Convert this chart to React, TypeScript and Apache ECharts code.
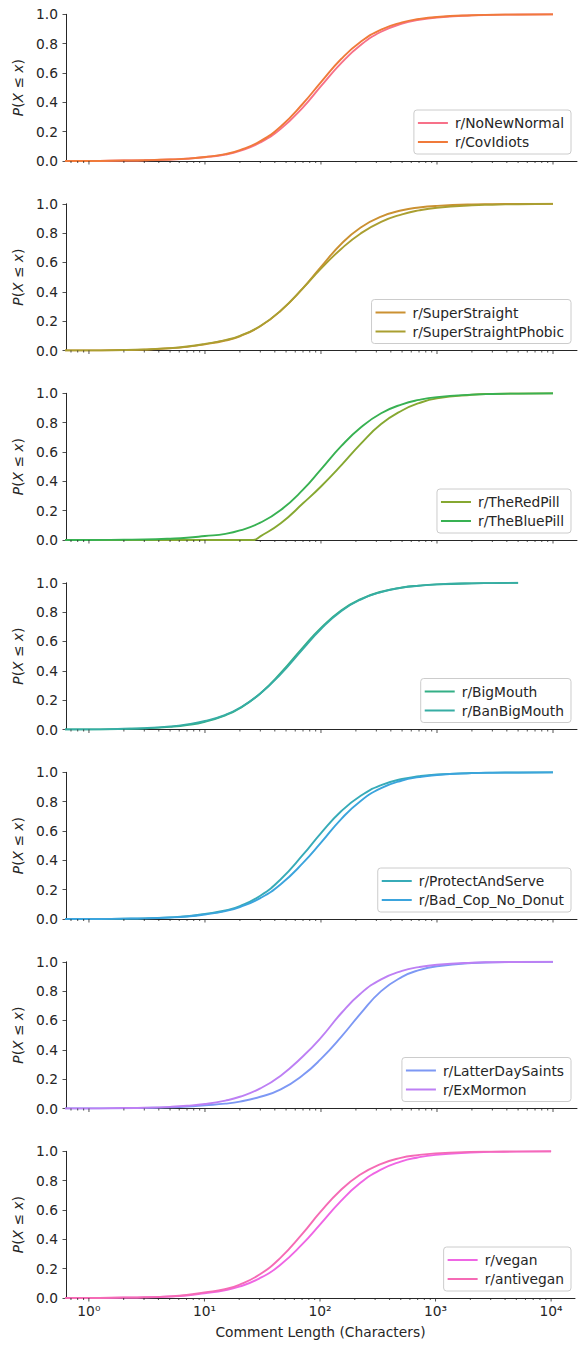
import React, { useEffect, useRef } from 'react';
import * as echarts from 'echarts';

// Comment length sample points (characters); the first point sits left of the view (ECDF starts at 0)
const X = [0.5, 1, 2, 3, 5, 7, 10, 15, 20, 30, 45, 70, 100, 150, 220, 330, 500, 700, 1000, 2000, 3000, 5000, 10000];
// r/TheRedPill has no comments shorter than ~26 characters
const RED_X = [0.5, 1, 26, 30, 45, 70, 100, 150, 220, 330, 500, 700, 1000, 2000, 3000, 5000, 10000];

// ECDF values, one per X value (null = no data)
const NoNewNormal = [0, 0, 0.003, 0.005, 0.01, 0.015, 0.026, 0.044, 0.069, 0.126, 0.219, 0.366, 0.51, 0.669, 0.791, 0.881, 0.936, 0.962, 0.978, 0.993, 0.996, 0.9984, 1];
const CovIdiots = [0, 0, 0.003, 0.005, 0.01, 0.016, 0.027, 0.047, 0.074, 0.135, 0.235, 0.392, 0.538, 0.697, 0.813, 0.896, 0.945, 0.968, 0.982, 0.994, 0.997, 0.9988, 1];
const SuperStraight = [0, 0, 0.003, 0.006, 0.015, 0.025, 0.042, 0.068, 0.097, 0.165, 0.271, 0.425, 0.57, 0.728, 0.839, 0.913, 0.956, 0.975, 0.986, 0.996, 0.998, 0.999, 1];
const SuperStraightPhobic = [0, 0, 0.003, 0.007, 0.016, 0.027, 0.045, 0.071, 0.1, 0.167, 0.272, 0.425, 0.558, 0.694, 0.798, 0.877, 0.928, 0.955, 0.973, 0.99, 0.994, 0.997, 1];
const TheRedPill = [0, 0, 0, 0.025, 0.114, 0.25, 0.365, 0.51, 0.655, 0.79, 0.883, 0.933, 0.965, 0.99, 0.996, 0.999, 1];
const TheBluePill = [0, 0, 0.002, 0.0035, 0.009, 0.015, 0.027, 0.042, 0.065, 0.118, 0.204, 0.343, 0.4815, 0.641, 0.767, 0.864, 0.925, 0.955, 0.974, 0.991, 0.9955, 0.998, 1];
const BigMouth = [0, 0, 0.004, 0.008, 0.018, 0.03, 0.053, 0.097, 0.145, 0.246, 0.385, 0.56, 0.693, 0.813, 0.889, 0.939, 0.968, 0.981, 0.989, 0.9964, 0.998, 1, null];
const BanBigMouth = [0, 0, 0.005, 0.009, 0.021, 0.035, 0.058, 0.1, 0.148, 0.245, 0.378, 0.55, 0.685, 0.808, 0.886, 0.937, 0.967, 0.98, 0.989, 0.9963, 0.998, 1, null];
const ProtectAndServe = [0, 0, 0.002, 0.004, 0.011, 0.019, 0.035, 0.058, 0.088, 0.159, 0.271, 0.438, 0.586, 0.736, 0.84, 0.912, 0.954, 0.973, 0.985, 0.995, 0.998, 0.999, 1];
const BadCopNoDonut = [0, 0, 0.0025, 0.0046, 0.0102, 0.0171, 0.031, 0.0536, 0.0813, 0.1424, 0.237, 0.382, 0.52, 0.683, 0.805, 0.892, 0.944, 0.967, 0.982, 0.9944, 0.9972, 0.9988, 1];
const LatterDaySaints = [0, 0, 0.002, 0.004, 0.008, 0.013, 0.022, 0.033, 0.047, 0.08, 0.13, 0.228, 0.338, 0.49, 0.648, 0.8, 0.897, 0.943, 0.97, 0.992, 0.996, 0.9985, 1];
const ExMormon = [0, 0, 0.003, 0.0053, 0.0112, 0.0183, 0.0305, 0.054, 0.08, 0.137, 0.224, 0.356, 0.483, 0.651, 0.784, 0.88, 0.938, 0.964, 0.98, 0.994, 0.997, 0.9988, 1];
const Vegan = [0, 0, 0.0023, 0.0045, 0.01, 0.017, 0.032, 0.052, 0.077, 0.134, 0.224, 0.365, 0.5, 0.657, 0.78, 0.872, 0.93, 0.958, 0.976, 0.992, 0.9958, 0.9981, 1];
const Antivegan = [0, 0, 0.003, 0.005, 0.011, 0.02, 0.038, 0.06, 0.09, 0.16, 0.27, 0.435, 0.583, 0.733, 0.838, 0.911, 0.955, 0.974, 0.986, 0.996, 0.998, 0.9992, 1];

const PANEL_NAMES = [
  ['r/NoNewNormal', 'r/CovIdiots'],
  ['r/SuperStraight', 'r/SuperStraightPhobic'],
  ['r/TheRedPill', 'r/TheBluePill'],
  ['r/BigMouth', 'r/BanBigMouth'],
  ['r/ProtectAndServe', 'r/Bad_Cop_No_Donut'],
  ['r/LatterDaySaints', 'r/ExMormon'],
  ['r/vegan', 'r/antivegan'],
];
const PANEL_VALUES = [
  [NoNewNormal, CovIdiots],
  [SuperStraight, SuperStraightPhobic],
  [TheRedPill, TheBluePill],
  [BigMouth, BanBigMouth],
  [ProtectAndServe, BadCopNoDonut],
  [LatterDaySaints, ExMormon],
  [Vegan, Antivegan],
];
const PANEL_X = [
  [X, X],
  [X, X],
  [RED_X, X],
  [X, X],
  [X, X],
  [X, X],
  [X, X],
];
const COLORS = [
  ['#f77189', '#f07a3a'],
  ['#cb9132', '#aa9f31'],
  ['#86a831', '#38b152'],
  ['#34af86', '#36ada4'],
  ['#37abb8', '#3ba4dd'],
  ['#7d98f4', '#bd80f4'],
  ['#ef66e4', '#f56bb5'],
];

const MAJOR_TICKS = [1, 10, 100, 1000, 10000];
const MINOR_TICKS = [0.7, 0.8, 0.9, 2, 3, 4, 5, 6, 7, 8, 9, 20, 30, 40, 50, 60, 70, 80, 90, 200, 300, 400, 500, 600, 700, 800, 900, 2000, 3000, 4000, 5000, 6000, 7000, 8000, 9000];
const Y_TICKS_INTERVAL = 0.2;

const FONT = 'DejaVu Sans';
const INK = '#262626';
const FS = 13.8;
const SUP: Record<string, string> = { '0': '\u2070', '1': '\u00b9', '2': '\u00b2', '3': '\u00b3', '4': '\u2074' };
// legend line sample: a 30x14 box holding a centred 1.8px bar
const LEGEND_ICON = 'path://M0,0h0.01v0.01h-0.01z M0,6.1h30v1.8h-30z M29.99,13.99h0.01v0.01h-0.01z';

export default function App() {
  const ref = useRef<HTMLDivElement>(null);
  useEffect(() => {
    if (!ref.current) return;
    const chart = echarts.init(ref.current, null, { renderer: 'svg' });
    const grids: any[] = [];
    const xAxes: any[] = [];
    const yAxes: any[] = [];
    const legends: any[] = [];
    const series: any[] = [];
    const n = PANEL_NAMES.length;
    for (let k = 0; k < n; k++) {
      const top = 14.3 + 189.5 * k;
      const height = 146.7;
      const last = k === n - 1;
      grids.push({ left: 66, width: 511, top, height });
      xAxes.push({
        type: 'log',
        logBase: 10,
        gridIndex: k,
        min: 0.634,
        max: 16100,
        axisLine: { show: true, onZero: false, lineStyle: { color: INK, width: 1 } },
        axisTick: { show: false },
        splitLine: { show: false },
        minorTick: { show: false },
        axisLabel: {
          show: last,
          margin: 6,
          color: INK,
          fontSize: FS,
          fontFamily: FONT,
          formatter: (v: number) => {
            const l = Math.log10(v);
            const r = Math.round(l);
            if (Math.abs(l - r) > 1e-6) return '';
            return '10' + String(r).split('').map((c) => SUP[c] || c).join('');
          },
        },
        name: last ? 'Comment Length (Characters)' : '',
        nameLocation: 'middle',
        nameGap: 27,
        nameTextStyle: { color: INK, fontSize: FS, fontFamily: FONT },
      });
      yAxes.push({
        type: 'value',
        gridIndex: k,
        min: 0,
        max: 1,
        interval: Y_TICKS_INTERVAL,
        axisLine: { show: true, lineStyle: { color: INK, width: 1 } },
        axisTick: { show: true, length: 3.5, lineStyle: { color: INK, width: 0.8 } },
        splitLine: { show: false },
        axisLabel: {
          margin: 8,
          color: INK,
          fontSize: FS,
          fontFamily: FONT,
          formatter: (v: number) => v.toFixed(1),
        },
        name: '{i|P}({i|X} \u2264 {i|x})',
        nameLocation: 'middle',
        nameRotate: 90,
        nameGap: 27,
        nameTextStyle: {
          color: INK,
          fontSize: FS,
          fontFamily: FONT,
          rich: { i: { fontStyle: 'italic', color: INK, fontSize: FS, fontFamily: FONT } },
        },
      });
      legends.push({
        data: PANEL_NAMES[k].map((name) => ({ name, icon: LEGEND_ICON })),
        orient: 'vertical',
        right: 7,
        top: top + 95.7,
        itemWidth: 30,
        itemHeight: 14,
        itemGap: 5,
        padding: [6, 7, 5, 4],
        backgroundColor: 'rgba(255,255,255,0.8)',
        borderColor: '#cccccc',
        borderWidth: 1,
        borderRadius: 3,
        selectedMode: false,
        textStyle: { color: INK, fontSize: FS, fontFamily: FONT, padding: [0, 0, 0, 2] },
      });
      for (let s = 0; s < 2; s++) {
        const vals = PANEL_VALUES[k][s];
        const xs = PANEL_X[k][s];
        const data: number[][] = [];
        xs.forEach((x, i) => {
          if (vals[i] !== null && vals[i] !== undefined) data.push([x, vals[i] as number]);
        });
        series.push({
          type: 'line',
          name: PANEL_NAMES[k][s],
          xAxisIndex: k,
          yAxisIndex: k,
          data,
          symbol: 'none',
          showSymbol: false,
          smooth: 0.5,
          clip: true,
          color: COLORS[k][s],
          itemStyle: { color: COLORS[k][s] },
          lineStyle: { width: 1.9, color: COLORS[k][s] },
          z: 2 + s,
        });
      }
      const tickData = MINOR_TICKS.map((v) => [v, 0, 2]).concat(MAJOR_TICKS.map((v) => [v, 0, 3.5]));
      series.push({
        type: 'custom',
        name: 'ticks' + k,
        xAxisIndex: k,
        yAxisIndex: k,
        data: tickData,
        encode: { x: 0, y: 1 },
        clip: false,
        silent: true,
        z: 10,
        renderItem: (params: any, api: any) => {
          const p = api.coord([api.value(0), 0]);
          const len = api.value(2);
          return {
            type: 'line',
            shape: { x1: p[0], y1: p[1], x2: p[0], y2: p[1] + len },
            style: { stroke: INK, lineWidth: 0.8 },
          };
        },
      });
    }
    chart.setOption({
      animation: false,
      backgroundColor: '#ffffff',
      textStyle: { fontFamily: FONT },
      grid: grids,
      xAxis: xAxes,
      yAxis: yAxes,
      legend: legends,
      series,
    });
    return () => chart.dispose();
  }, []);
  return <div ref={ref} style={{ position: 'absolute', left: 0, top: 0, width: 578, height: 1346 }} />;
}
